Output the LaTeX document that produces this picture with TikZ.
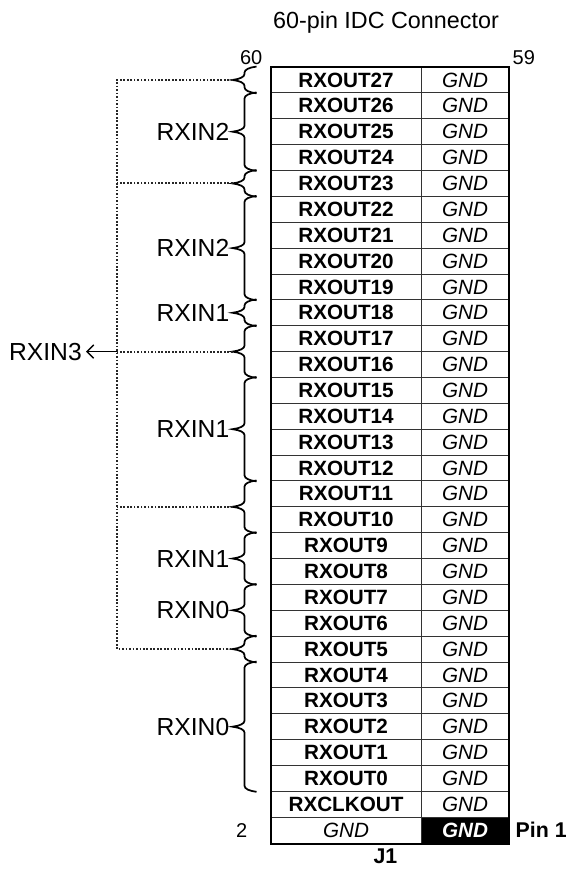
\documentclass[tikz,border=0pt]{standalone}
\usepackage{fontspec}
\setmainfont{Liberation Sans}
\usetikzlibrary{arrows.meta,calc,decorations.pathreplacing}

\begin{document}
\begin{tikzpicture}[
    x=0.75pt,
    y=-0.75pt,
    >={Straight Barb[length=5pt,width=10pt]},
    cell/.style={
      draw=black!80,
      line width=0.7pt,
      minimum height=19.4pt,
      inner sep=0pt
    },
    sigcell/.style={
      cell,
      minimum width=112.5pt,
      font=\fontsize{15.5}{18}\selectfont\bfseries
    },
    gndcell/.style={
      cell,
      minimum width=66pt,
      font=\fontsize{15.5}{18}\selectfont\itshape
    },
    bundle/.style={
      decorate,
      decoration={brace,amplitude=4.5pt,transform={yscale=4}},
      line width=1.3pt
    },
    link/.style={
      dash pattern=on 1.3pt off 1.3pt,
      line width=1.4pt,
      black!85
    },
    group/.style={
      anchor=east,
      inner sep=0pt,
      font=\fontsize{18.5}{21}\selectfont
    },
    pinnum/.style={
      inner sep=0pt,
      font=\fontsize{15}{17}\selectfont
    }
  ]
    \useasboundingbox (0,0) rectangle (566,872);

    \foreach \i in {0,...,27} {
      \pgfmathtruncatemacro{\n}{27-\i}
      \node[sigcell] (s\i) at (346,{79.94+25.87*\i}) {RXOUT\n};
    }
    \node[sigcell] (s28) at (346,{79.94+25.87*28}) {RXCLKOUT};
    \node[sigcell,font=\fontsize{15.5}{18}\selectfont\itshape] (s29) at (346,{79.94+25.87*29}) {GND};

    \foreach \i in {0,...,28}
      \node[gndcell] (g\i) at (465,{79.94+25.87*\i}) {GND};
    \node[gndcell,fill=black,text=white,font=\fontsize{15.5}{18}\selectfont\bfseries\itshape] (g29) at (465,{79.94+25.87*29}) {GND};

    \draw[line width=1.5pt] (s0.north west) rectangle (g29.south east);

    \node[font=\fontsize{17.5}{20}\selectfont] (title) at (386,22) {60-pin IDC Connector};
    \node[pinnum,anchor=south east] (p60) at ($(s0.north west)+(-8,-2)$) {60};
    \node[pinnum,anchor=south west] (p59) at ($(g0.north east)+(3,-2)$) {59};
    \node[pinnum,anchor=east] (p2) at ($(s29.west)+(-23,0)$) {2};
    \node[anchor=west,inner sep=0pt,font=\fontsize{16}{18}\selectfont\bfseries] (pin1) at ($(g29.east)+(6,0)$) {Pin 1};
    \node[anchor=north,inner sep=0pt,font=\fontsize{16}{18}\selectfont\bfseries] (j1) at ($(s29.south east)+(-36,5)$) {J1};

    \foreach \k/\a/\b in {0/0/0,1/1/3,2/4/4,3/5/8,4/9/9,5/10/11,6/12/15,7/16/17,8/18/19,9/20/21,10/22/22,11/23/27} {
      \draw[bundle] ($(s\b.south west)+(-14,0)$) -- ($(s\a.north west)+(-14,0)$);
      \coordinate (t\k) at ($(s\a.north west)!0.5!(s\b.south west)+(-38,0)$);
    }

    \foreach \k/\l in {1/RXIN2,3/RXIN2,4/RXIN1,6/RXIN1,8/RXIN1,9/RXIN0,11/RXIN0}
      \node[group] (n\k) at ($(t\k)+(-3,0)$) {\l};

    \coordinate (bus) at (117,0);
    \draw[link] (t0) -- (t0 -| bus) -- (t10 -| bus) -- (t10);
    \foreach \k in {2,5,7}
      \draw[link] (t\k) -- (t\k -| bus);

    \node[group] (rx3) at ($(t5 -| bus)+(-35,0)$) {RXIN3};
    \draw[->,line width=1.1pt,shorten >=3pt] (t5 -| bus) -- (rx3.east);
\end{tikzpicture}
\end{document}
